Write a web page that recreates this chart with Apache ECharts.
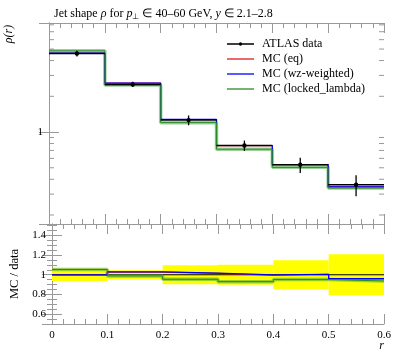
<!DOCTYPE html>
<html>
<head>
<meta charset="utf-8">
<script src="https://cdn.jsdelivr.net/npm/echarts@6/dist/echarts.min.js"></script>
<style>html,body{margin:0;padding:0;background:#fff}#c{width:397px;height:358px}</style>
</head>
<body>
<div id="c"></div>
<script>
// ---- data ----
const edges = [0, 0.1, 0.2, 0.3, 0.4, 0.5, 0.6];
const dataVals = [4.59, 2.52, 1.26, 0.771, 0.530, 0.360];
const dataErr = [0.26, 0.13, 0.12, 0.077, 0.078, 0.072];
const mcEq = [4.61, 2.58, 1.275, 0.767, 0.531, 0.345];
const mcWz = [4.62, 2.59, 1.28, 0.770, 0.533, 0.346];
const mcLocked = [4.83, 2.49, 1.20, 0.717, 0.504, 0.337];
const ratioBand = [0.064, 0.046, 0.097, 0.102, 0.147, 0.207];
const ratioData = [1, 1, 1, 1, 1, 1];
const ratioEq = [0.997, 1.026, 1.013, 0.995, 1.003, 0.959];
const ratioWz = [1.000, 1.029, 1.016, 0.998, 1.005, 0.961];
const ratioLocked = [1.053, 0.988, 0.954, 0.930, 0.951, 0.937];
const logMinorTicks = [0.2, 0.3, 0.4, 0.5, 0.6, 0.7, 0.8, 0.9, 2, 3, 4, 5, 6, 7, 8];
const seriesNames = ['ATLAS data', 'MC (eq)', 'MC (wz-weighted)', 'MC (locked_lambda)'];

const FONT = 'Liberation Serif';
const AX = '#999999';
const RED = '#e41a1c', BLUE = '#0000ff', GREEN = '#2a8a2a', GREEN_HALO = 'rgba(70,170,70,0.55)';
const LINE_ICON = 'path://M0,0H27V1.3H0Z';
const DATA_ICON = 'path://M0,5.25H27V6.75H0Z M11.8,6A1.7,1.7 0 1 1 15.2,6A1.7,1.7 0 1 1 11.8,6Z';

function stepData(vals) {
  const d = vals.map((v, i) => [edges[i], v]);
  d.push([edges[vals.length], vals[vals.length - 1]]);
  return d;
}

function xAxisCfg(grid, pos, labels) {
  return {
    type: 'value', gridIndex: grid, position: pos, min: 0, max: 0.6, interval: 0.1,
    axisLine: {show: true, lineStyle: {color: AX, width: 1}},
    axisTick: {show: true, inside: true, length: 10, lineStyle: {color: AX}},
    minorTick: {show: true, splitNumber: 5, length: 5, lineStyle: {color: AX}},
    splitLine: {show: false}, minorSplitLine: {show: false},
    axisLabel: {show: labels, color: '#000', fontFamily: FONT, fontSize: 11, margin: 6}
  };
}
function logYCfg(pos, labels) {
  return {
    type: 'log', logBase: 10, gridIndex: 0, position: pos, min: 0.168, max: 8.29,
    axisLine: {show: true, lineStyle: {color: AX}},
    axisTick: {show: true, inside: true, length: 10, lineStyle: {color: AX}},
    minorTick: {show: false},
    splitLine: {show: false},
    axisLabel: {show: labels, showMinLabel: false, showMaxLabel: false, color: '#000', fontFamily: FONT, fontSize: 11, margin: 6,
      formatter: v => (Math.abs(v - 1) < 1e-6 ? '1' : '')}
  };
}
function ratioYCfg(pos, labels) {
  const c = {
    type: 'value', gridIndex: 1, position: pos, min: 0.5, max: 1.515, splitNumber: 5,
    axisLine: {show: true, lineStyle: {color: AX}},
    axisTick: {show: true, inside: true, length: 10, lineStyle: {color: AX}},
    minorTick: {show: true, splitNumber: 4, length: 5, lineStyle: {color: AX}},
    splitLine: {show: false}, minorSplitLine: {show: false},
    axisLabel: {show: labels, showMinLabel: false, showMaxLabel: false, color: '#000', fontFamily: FONT, fontSize: 11, margin: 6}
  };
  if (labels) {
    c.name = 'MC / data'; c.nameLocation = 'middle'; c.nameGap = 31;
    c.nameTextStyle = {fontFamily: FONT, fontSize: 12.5, color: '#000'};
  }
  return c;
}

function stepSeries(name, vals, color, width, xi, yi, z) {
  return {
    type: 'line', name: name, xAxisIndex: xi, yAxisIndex: yi, step: 'end', data: stepData(vals),
    symbol: 'none', lineStyle: {color: color, width: width}, itemStyle: {color: color}, z: z, silent: true
  };
}

const legendItemStyle = {borderWidth: 0, opacity: 1};
const legendLineStyle = {width: 0, opacity: 0};
const chart = echarts.init(document.getElementById('c'), null, {renderer: 'canvas'});
const option = {
  animation: false,
  backgroundColor: '#fff',
  title: {
    left: 49, top: 2,
    text: 'Jet shape {i|ρ} for {i|p}{s|⊥} ∈ 40–60 GeV, {i|y} ∈ 2.1–2.8',
    textStyle: {fontFamily: FONT, fontSize: 12, fontWeight: 'normal', color: '#000',
      rich: {i: {fontFamily: FONT, fontSize: 12, fontStyle: 'italic', color: '#000'},
             s: {fontFamily: FONT, fontSize: 8, color: '#000', verticalAlign: 'bottom', padding: [6, 0, 0, 0]}}}
  },
  legend: {
    data: [
      {name: seriesNames[0], icon: DATA_ICON, itemStyle: legendItemStyle, lineStyle: legendLineStyle},
      {name: seriesNames[1], icon: LINE_ICON, itemStyle: legendItemStyle, lineStyle: legendLineStyle},
      {name: seriesNames[2], icon: LINE_ICON, itemStyle: legendItemStyle, lineStyle: legendLineStyle},
      {name: seriesNames[3], icon: LINE_ICON, itemStyle: legendItemStyle, lineStyle: legendLineStyle}
    ],
    orient: 'vertical', left: 227, top: 38, padding: 0,
    itemWidth: 27, itemHeight: 12, itemGap: 3,
    textStyle: {fontFamily: FONT, fontSize: 12, color: '#000', padding: [0, 0, 0, 3]},
    selectedMode: false
  },
  grid: [
    {left: 49, top: 23, width: 335, height: 201},
    {left: 49, top: 224, width: 335, height: 100}
  ],
  xAxis: [xAxisCfg(0, 'bottom', false), xAxisCfg(0, 'top', false), xAxisCfg(1, 'bottom', true), xAxisCfg(1, 'top', false)],
  yAxis: [logYCfg('left', true), logYCfg('right', false), ratioYCfg('left', true), ratioYCfg('right', false)],
  graphic: [
    {type: 'text', x: 9, y: 34, rotation: Math.PI / 2,
      style: {text: 'ρ(r)', fontFamily: FONT, fontSize: 12, fontStyle: 'italic', fill: '#000', align: 'center', verticalAlign: 'middle'}},
    {type: 'text', x: 384, y: 346,
      style: {text: 'r', fontFamily: FONT, fontSize: 12, fontStyle: 'italic', fill: '#000', align: 'right', verticalAlign: 'middle'}}
  ],
  series: [
    {
      type: 'custom', xAxisIndex: 0, yAxisIndex: 0, silent: true, z: 1,
      data: logMinorTicks.map(v => [0, v]),
      renderItem: function (params, api) {
        const l = api.coord([0, api.value(1)]);
        const r = api.coord([0.6, api.value(1)]);
        const st = {stroke: AX, lineWidth: 1};
        return {type: 'group', children: [
          {type: 'line', shape: {x1: l[0], y1: l[1], x2: l[0] + 5, y2: l[1]}, style: st},
          {type: 'line', shape: {x1: r[0], y1: r[1], x2: r[0] - 5, y2: r[1]}, style: st}
        ]};
      }
    },
    stepSeries('MC (eq)', mcEq, RED, 1.2, 0, 0, 3),
    stepSeries('MC (wz-weighted)', mcWz, BLUE, 1.2, 0, 0, 4),
    stepSeries('_lockedHalo', mcLocked, GREEN_HALO, 3.5, 0, 0, 2),
    stepSeries('MC (locked_lambda)', mcLocked, GREEN, 1, 0, 0, 5),
    {type: 'line', name: 'ATLAS data', xAxisIndex: 0, yAxisIndex: 0, data: [], symbol: 'circle', symbolSize: 5,
      lineStyle: {color: '#000', width: 1.5}, itemStyle: {color: '#000'}},
    {
      type: 'custom', xAxisIndex: 0, yAxisIndex: 0, silent: true, z: 10,
      data: dataVals.map((v, i) => [edges[i], edges[i + 1], v, dataErr[i]]),
      encode: {x: [0, 1], y: 2},
      renderItem: function (params, api) {
        const x0 = api.value(0), x1 = api.value(1), y = api.value(2), e = api.value(3);
        const xc = (x0 + x1) / 2;
        const a = api.coord([x0, y]), b = api.coord([x1, y]);
        const t = api.coord([xc, y + e]), bt = api.coord([xc, y - e]);
        const c = api.coord([xc, y]);
        return {type: 'group', children: [
          {type: 'line', shape: {x1: a[0], y1: a[1], x2: b[0], y2: b[1]}, style: {stroke: '#000', lineWidth: 1.5}},
          {type: 'line', shape: {x1: t[0], y1: t[1], x2: bt[0], y2: bt[1]}, style: {stroke: '#000', lineWidth: 1.3}},
          {type: 'circle', shape: {cx: c[0], cy: c[1], r: 2.2}, style: {fill: '#000'}}
        ]};
      }
    },
    {
      type: 'custom', xAxisIndex: 2, yAxisIndex: 2, silent: true, z: 1,
      data: ratioBand.map((b, i) => [edges[i], edges[i + 1], 1 + b, 1 - b]),
      encode: {x: [0, 1], y: [2, 3]},
      renderItem: function (params, api) {
        const p = api.coord([api.value(0), api.value(2)]);
        const q = api.coord([api.value(1), api.value(3)]);
        return {type: 'rect', shape: {x: p[0], y: p[1], width: q[0] - p[0], height: q[1] - p[1]}, style: {fill: '#ffff00'}};
      }
    },
    stepSeries('_ratioData', ratioData, '#000', 1.2, 2, 2, 3),
    stepSeries('_ratioEq', ratioEq, RED, 1.2, 2, 2, 4),
    stepSeries('_ratioWz', ratioWz, BLUE, 1.2, 2, 2, 5),
    stepSeries('_ratioLockedHalo', ratioLocked, GREEN_HALO, 3.5, 2, 2, 3),
    stepSeries('_ratioLocked', ratioLocked, GREEN, 1, 2, 2, 6)
  ]
};
chart.setOption(option);
</script>
</body>
</html>
